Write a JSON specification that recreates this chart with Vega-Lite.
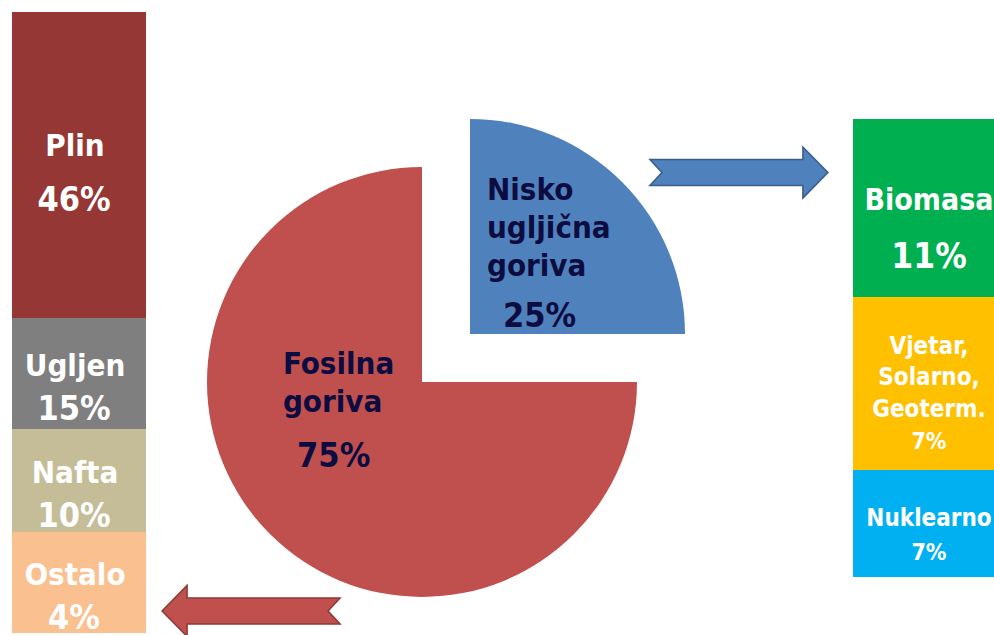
{
  "$schema": "https://vega.github.io/schema/vega-lite/v6.json",
  "width": 994,
  "height": 635,
  "padding": 0,
  "autosize": {"type": "none"},
  "background": "white",
  "config": {"view": {"stroke": null}, "axis": {"disable": true}, "legend": {"disable": true}, "text": {"font": "DejaVu Sans Condensed", "fontWeight": "bold"}},
  "data": {
    "values": [
      {"skupina": "Fosilna goriva", "izvor": "Plin", "udio": 0.46, "redoslijed": 1},
      {"skupina": "Fosilna goriva", "izvor": "Ugljen", "udio": 0.15, "redoslijed": 2},
      {"skupina": "Fosilna goriva", "izvor": "Nafta", "udio": 0.10, "redoslijed": 3},
      {"skupina": "Fosilna goriva", "izvor": "Ostalo", "udio": 0.04, "redoslijed": 4},
      {"skupina": "Ukupno", "izvor": "Nisko ugljična goriva", "udio": 0.25, "redoslijed": 1},
      {"skupina": "Ukupno", "izvor": "Fosilna goriva", "udio": 0.75, "redoslijed": 2},
      {"skupina": "Nisko ugljična goriva", "izvor": "Biomasa", "udio": 0.11, "redoslijed": 1},
      {"skupina": "Nisko ugljična goriva", "izvor": "Vjetar, Solarno, Geoterm.", "udio": 0.07, "redoslijed": 2},
      {"skupina": "Nisko ugljična goriva", "izvor": "Nuklearno", "udio": 0.07, "redoslijed": 3}
    ]
  },
  "resolve": {"scale": {"x": "independent", "y": "independent"}},
  "layer": [
    {
      "transform": [{"filter": "datum.skupina === 'Fosilna goriva'"}],
      "layer": [
        {
          "mark": {"type": "bar"},
          "encoding": {
            "x": {"field": "skupina", "type": "nominal", "scale": {"range": [12, 146], "paddingInner": 0, "paddingOuter": 0}, "axis": null},
            "y": {"field": "udio", "type": "quantitative", "stack": "zero", "scale": {"domain": [0, 0.46, 0.61, 0.71, 0.75], "range": [12, 318, 429, 532, 633], "nice": false, "zero": false}, "axis": null},
            "order": {"field": "redoslijed", "type": "quantitative"},
            "color": {"field": "izvor", "type": "nominal", "scale": {"domain": ["Plin", "Ugljen", "Nafta", "Ostalo", "Nisko ugljična goriva", "Fosilna goriva", "Biomasa", "Vjetar, Solarno, Geoterm.", "Nuklearno"], "range": ["#953735", "#7f7f7f", "#c4bd97", "#fac090", "#4f81bd", "#c0504d", "#00b050", "#ffc000", "#00b0f0"]}, "legend": null}
          }
        },
        {
          "mark": {"type": "text", "fontSize": 31, "color": "white", "dx": -4},
          "encoding": {
            "x": {"field": "skupina", "type": "nominal", "scale": {"range": [12, 146], "paddingInner": 0, "paddingOuter": 0}, "axis": null},
            "y": {"field": "udio", "type": "quantitative", "stack": "zero", "bandPosition": 0.44, "scale": {"domain": [0, 0.46, 0.61, 0.71, 0.75], "range": [12, 318, 429, 532, 633], "nice": false, "zero": false}, "axis": null},
            "order": {"field": "redoslijed", "type": "quantitative"},
            "detail": {"field": "izvor", "type": "nominal"},
            "text": {"field": "izvor", "type": "nominal"}
          }
        },
        {
          "mark": {"type": "text", "fontSize": 34, "color": "white", "dx": -5, "dy": 36},
          "encoding": {
            "x": {"field": "skupina", "type": "nominal", "scale": {"range": [12, 146], "paddingInner": 0, "paddingOuter": 0}, "axis": null},
            "y": {"field": "udio", "type": "quantitative", "stack": "zero", "bandPosition": 0.5, "scale": {"domain": [0, 0.46, 0.61, 0.71, 0.75], "range": [12, 318, 429, 532, 633], "nice": false, "zero": false}, "axis": null},
            "order": {"field": "redoslijed", "type": "quantitative"},
            "detail": {"field": "izvor", "type": "nominal"},
            "text": {"field": "udio", "type": "quantitative", "format": ".0%"}
          }
        }
      ]
    },
    {
      "transform": [
        {"filter": "datum.skupina === 'Ukupno'"},
        {"stack": "udio", "groupby": ["skupina"], "sort": [{"field": "redoslijed", "order": "ascending"}], "as": ["t0", "t1"]}
      ],
      "layer": [
        {
          "transform": [{"filter": "datum.izvor === 'Fosilna goriva'"}],
          "mark": {"type": "arc", "radius": 215},
          "encoding": {
            "x": {"datum": 0, "type": "quantitative", "scale": {"domain": [-1, 1], "range": [207, 637], "nice": false, "zero": false}, "axis": null},
            "y": {"datum": 0, "type": "quantitative", "scale": {"domain": [-1, 1], "range": [597, 167], "nice": false, "zero": false}, "axis": null},
            "theta": {"field": "t0", "type": "quantitative", "stack": null, "scale": {"domain": [0, 1], "range": [0, 6.283185307179586]}},
            "theta2": {"field": "t1"},
            "color": {"field": "izvor", "type": "nominal", "legend": null}
          }
        },
        {
          "transform": [{"filter": "datum.izvor === 'Nisko ugljična goriva'"}],
          "mark": {"type": "arc", "radius": 215},
          "encoding": {
            "x": {"datum": 0.2233, "type": "quantitative"},
            "y": {"datum": 0.2233, "type": "quantitative"},
            "theta": {"field": "t0", "type": "quantitative", "stack": null},
            "theta2": {"field": "t1"},
            "color": {"field": "izvor", "type": "nominal", "legend": null}
          }
        },
        {
          "transform": [{"filter": "datum.izvor === 'Nisko ugljična goriva'"}],
          "mark": {"type": "point", "filled": true, "opacity": 1, "size": 31684, "stroke": "#385d8a", "strokeWidth": 1.5, "shape": "M -1 -0.146 L 0.719 -0.146 L 0.719 -0.287 L 1 0 L 0.719 0.287 L 0.719 0.146 L -1 0.146 L -0.865 0 Z"},
          "encoding": {
            "x": {"datum": 1.474, "type": "quantitative"},
            "y": {"datum": 0.974, "type": "quantitative"},
            "color": {"field": "izvor", "type": "nominal", "legend": null}
          }
        },
        {
          "transform": [{"filter": "datum.izvor === 'Fosilna goriva'"}],
          "mark": {"type": "point", "filled": true, "opacity": 1, "size": 31684, "stroke": "#8c3836", "strokeWidth": 1.5, "shape": "M 1 -0.146 L -0.719 -0.146 L -0.719 -0.287 L -1 0 L -0.719 0.287 L -0.719 0.146 L 1 0.146 L 0.865 0 Z"},
          "encoding": {
            "x": {"datum": -0.795, "type": "quantitative"},
            "y": {"datum": -1.065, "type": "quantitative"},
            "color": {"field": "izvor", "type": "nominal", "legend": null}
          }
        },
        {
          "transform": [{"filter": "datum.izvor === 'Nisko ugljična goriva'"}],
          "mark": {"type": "text", "fontSize": 31, "color": "#0c0c40", "align": "left", "lineBreak": " ", "lineHeight": 38},
          "encoding": {
            "x": {"datum": 0.302, "type": "quantitative"},
            "y": {"datum": 0.888, "type": "quantitative"},
            "text": {"field": "izvor", "type": "nominal"}
          }
        },
        {
          "transform": [{"filter": "datum.izvor === 'Nisko ugljična goriva'"}],
          "mark": {"type": "text", "fontSize": 34, "color": "#0c0c40", "align": "left"},
          "encoding": {
            "x": {"datum": 0.377, "type": "quantitative"},
            "y": {"datum": 0.302, "type": "quantitative"},
            "text": {"field": "udio", "type": "quantitative", "format": ".0%"}
          }
        },
        {
          "transform": [{"filter": "datum.izvor === 'Fosilna goriva'"}],
          "mark": {"type": "text", "fontSize": 31, "color": "#0c0c40", "align": "left", "lineBreak": " ", "lineHeight": 38},
          "encoding": {
            "x": {"datum": -0.647, "type": "quantitative"},
            "y": {"datum": 0.079, "type": "quantitative"},
            "text": {"field": "izvor", "type": "nominal"}
          }
        },
        {
          "transform": [{"filter": "datum.izvor === 'Fosilna goriva'"}],
          "mark": {"type": "text", "fontSize": 34, "color": "#0c0c40", "align": "left"},
          "encoding": {
            "x": {"datum": -0.581, "type": "quantitative"},
            "y": {"datum": -0.349, "type": "quantitative"},
            "text": {"field": "udio", "type": "quantitative", "format": ".0%"}
          }
        }
      ]
    },
    {
      "transform": [{"filter": "datum.skupina === 'Nisko ugljična goriva'"}],
      "layer": [
        {
          "mark": {"type": "bar"},
          "encoding": {
            "x": {"field": "skupina", "type": "nominal", "scale": {"range": [853, 1005], "paddingInner": 0, "paddingOuter": 0}, "axis": null},
            "y": {"field": "udio", "type": "quantitative", "stack": "zero", "scale": {"domain": [0, 0.11, 0.18, 0.25], "range": [119, 297, 470, 577], "nice": false, "zero": false}, "axis": null},
            "order": {"field": "redoslijed", "type": "quantitative"},
            "color": {"field": "izvor", "type": "nominal", "legend": null}
          }
        },
        {
          "mark": {"type": "text", "color": "white", "lineBreak": " "},
          "encoding": {
            "x": {"field": "skupina", "type": "nominal", "scale": {"range": [853, 1005], "paddingInner": 0, "paddingOuter": 0}, "axis": null},
            "y": {"field": "udio", "type": "quantitative", "stack": "zero", "bandPosition": 0.46, "scale": {"domain": [0, 0.11, 0.18, 0.25], "range": [119, 297, 470, 577], "nice": false, "zero": false}, "axis": null},
            "order": {"field": "redoslijed", "type": "quantitative"},
            "detail": {"field": "izvor", "type": "nominal"},
            "size": {"condition": {"test": "datum.izvor === 'Biomasa'", "value": 30}, "value": 24},
            "text": {"field": "izvor", "type": "nominal", "condition": {"test": "datum.izvor === 'Vjetar, Solarno, Geoterm.'", "value": ""}}
          }
        },
        {
          "mark": {"type": "text", "color": "white", "fontSize": 24, "lineBreak": " ", "lineHeight": 31.5},
          "encoding": {
            "x": {"field": "skupina", "type": "nominal", "scale": {"range": [853, 1005], "paddingInner": 0, "paddingOuter": 0}, "axis": null},
            "y": {"field": "udio", "type": "quantitative", "stack": "zero", "bandPosition": 0.289, "scale": {"domain": [0, 0.11, 0.18, 0.25], "range": [119, 297, 470, 577], "nice": false, "zero": false}, "axis": null},
            "order": {"field": "redoslijed", "type": "quantitative"},
            "detail": {"field": "izvor", "type": "nominal"},
            "text": {"condition": {"test": "datum.izvor === 'Vjetar, Solarno, Geoterm.'", "field": "izvor", "type": "nominal"}, "value": ""}
          }
        },
        {
          "mark": {"type": "text", "color": "white"},
          "encoding": {
            "x": {"field": "skupina", "type": "nominal", "scale": {"range": [853, 1005], "paddingInner": 0, "paddingOuter": 0}, "axis": null},
            "y": {"field": "udio", "type": "quantitative", "stack": "zero", "bandPosition": 0.775, "scale": {"domain": [0, 0.11, 0.18, 0.25], "range": [119, 297, 470, 577], "nice": false, "zero": false}, "axis": null},
            "order": {"field": "redoslijed", "type": "quantitative"},
            "detail": {"field": "izvor", "type": "nominal"},
            "size": {"condition": {"test": "datum.izvor === 'Biomasa'", "value": 35}, "value": 23},
            "text": {"field": "udio", "type": "quantitative", "format": ".0%", "condition": {"test": "datum.izvor === 'Vjetar, Solarno, Geoterm.'", "value": ""}}
          }
        },
        {
          "mark": {"type": "text", "color": "white", "fontSize": 23},
          "encoding": {
            "x": {"field": "skupina", "type": "nominal", "scale": {"range": [853, 1005], "paddingInner": 0, "paddingOuter": 0}, "axis": null},
            "y": {"field": "udio", "type": "quantitative", "stack": "zero", "bandPosition": 0.838, "scale": {"domain": [0, 0.11, 0.18, 0.25], "range": [119, 297, 470, 577], "nice": false, "zero": false}, "axis": null},
            "order": {"field": "redoslijed", "type": "quantitative"},
            "detail": {"field": "izvor", "type": "nominal"},
            "text": {"condition": {"test": "datum.izvor === 'Vjetar, Solarno, Geoterm.'", "field": "udio", "type": "quantitative", "format": ".0%"}, "value": ""}
          }
        }
      ]
    }
  ]
}
